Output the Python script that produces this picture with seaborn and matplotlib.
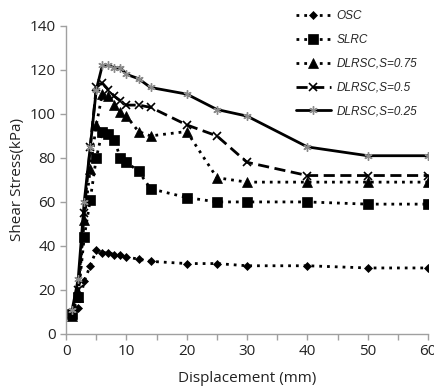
import matplotlib
matplotlib.use("Agg")
import matplotlib.pyplot as plt
import seaborn as sns
import numpy as np

# Displacement steps (mm)
displacement = [1, 2, 3, 4, 5, 6, 7, 8, 9, 10, 12, 14, 20, 25, 30, 40, 50, 60]

# Shear stress (kPa) for each specimen
osc = [8, 12, 24, 31, 38, 37, 37, 36, 36, 35, 34, 33, 32, 32, 31, 31, 30, 30]
slrc = [9, 17, 44, 61, 80, 92, 91, 88, 80, 78, 74, 66, 62, 60, 60, 60, 59, 59]
dlrsc_075 = [8, 17, 52, 75, 95, 109, 108, 104, 101, 99, 92, 90, 92, 71, 69, 69, 69, 69]
dlrsc_05 = [9, 20, 55, 85, 112, 114, 111, 108, 106, 104, 104, 103, 95, 90, 78, 72, 72, 72]
dlrsc_025 = [11, 25, 60, 85, 111, 122, 122, 121, 121, 118, 116, 112, 109, 102, 99, 85, 81, 81]

labels = ["OSC", "SLRC", "DLRSC,S=0.75", "DLRSC,S=0.5", "DLRSC,S=0.25"]

sns.set_theme(style="white")
plt.rcParams["font.family"] = ["Open Sans", "DejaVu Sans"]

fig = plt.figure(figsize=(4.35, 3.92), dpi=100)
ax = fig.add_axes([0.152, 0.148, 0.832, 0.786])

dot = (0, (1, 1.8))
styles = [
    dict(linestyle=dot, marker="D", markersize=4.5, linewidth=2.0,
         markeredgecolor="black", markeredgewidth=0.5),
    dict(linestyle=dot, marker="s", markersize=6.5, linewidth=2.0,
         markeredgecolor="black", markeredgewidth=0.5),
    dict(linestyle=dot, marker="^", markersize=6.5, linewidth=2.0,
         markeredgecolor="black", markeredgewidth=0.5),
    dict(linestyle=(0, (4, 2)), marker="x", markersize=5.5, linewidth=2.0,
         markeredgecolor="black", markeredgewidth=1.2),
    dict(linestyle="-", marker=(6, 2, 0), markersize=6, linewidth=2.0,
         markeredgecolor="#8a8a8a", markeredgewidth=1.0),
]
series = [osc, slrc, dlrsc_075, dlrsc_05, dlrsc_025]

for ys, lab, st in zip(series, labels, styles):
    sns.lineplot(x=displacement, y=ys, ax=ax, color="black", label=lab, **st)

ax.set_xlim(0, 60)
ax.set_ylim(0, 140)
ax.set_xticks(np.arange(0, 61, 10))
ax.set_xticks(np.arange(0, 61, 5), minor=True)
ax.set_yticks(np.arange(0, 141, 20))

for side in ["top", "right"]:
    ax.spines[side].set_visible(False)
for side in ["left", "bottom"]:
    ax.spines[side].set_color("#a0a0a0")
    ax.spines[side].set_linewidth(1.0)

ax.tick_params(axis="both", which="both", direction="out", color="#a0a0a0",
               length=4, width=1.0, labelsize=11, labelcolor="#222222")
ax.tick_params(axis="x", which="both", bottom=True)
ax.tick_params(axis="y", left=True)

ax.set_xlabel("Displacement (mm)", fontsize=11, color="#222222", labelpad=8)
ax.set_ylabel("Shear Stress(kPa)", fontsize=11, color="#222222", labelpad=3)

leg = ax.legend(loc="upper left", bbox_to_anchor=(0.665, 0.992),
                bbox_transform=fig.transFigure, frameon=False,
                handlelength=2.9, labelspacing=1.0, handletextpad=0.5,
                borderaxespad=0.2,
                prop=dict(family=["Liberation Sans", "DejaVu Sans"],
                          style="italic", size=8.5))

fig.savefig("out.png", dpi=100, facecolor="white")
